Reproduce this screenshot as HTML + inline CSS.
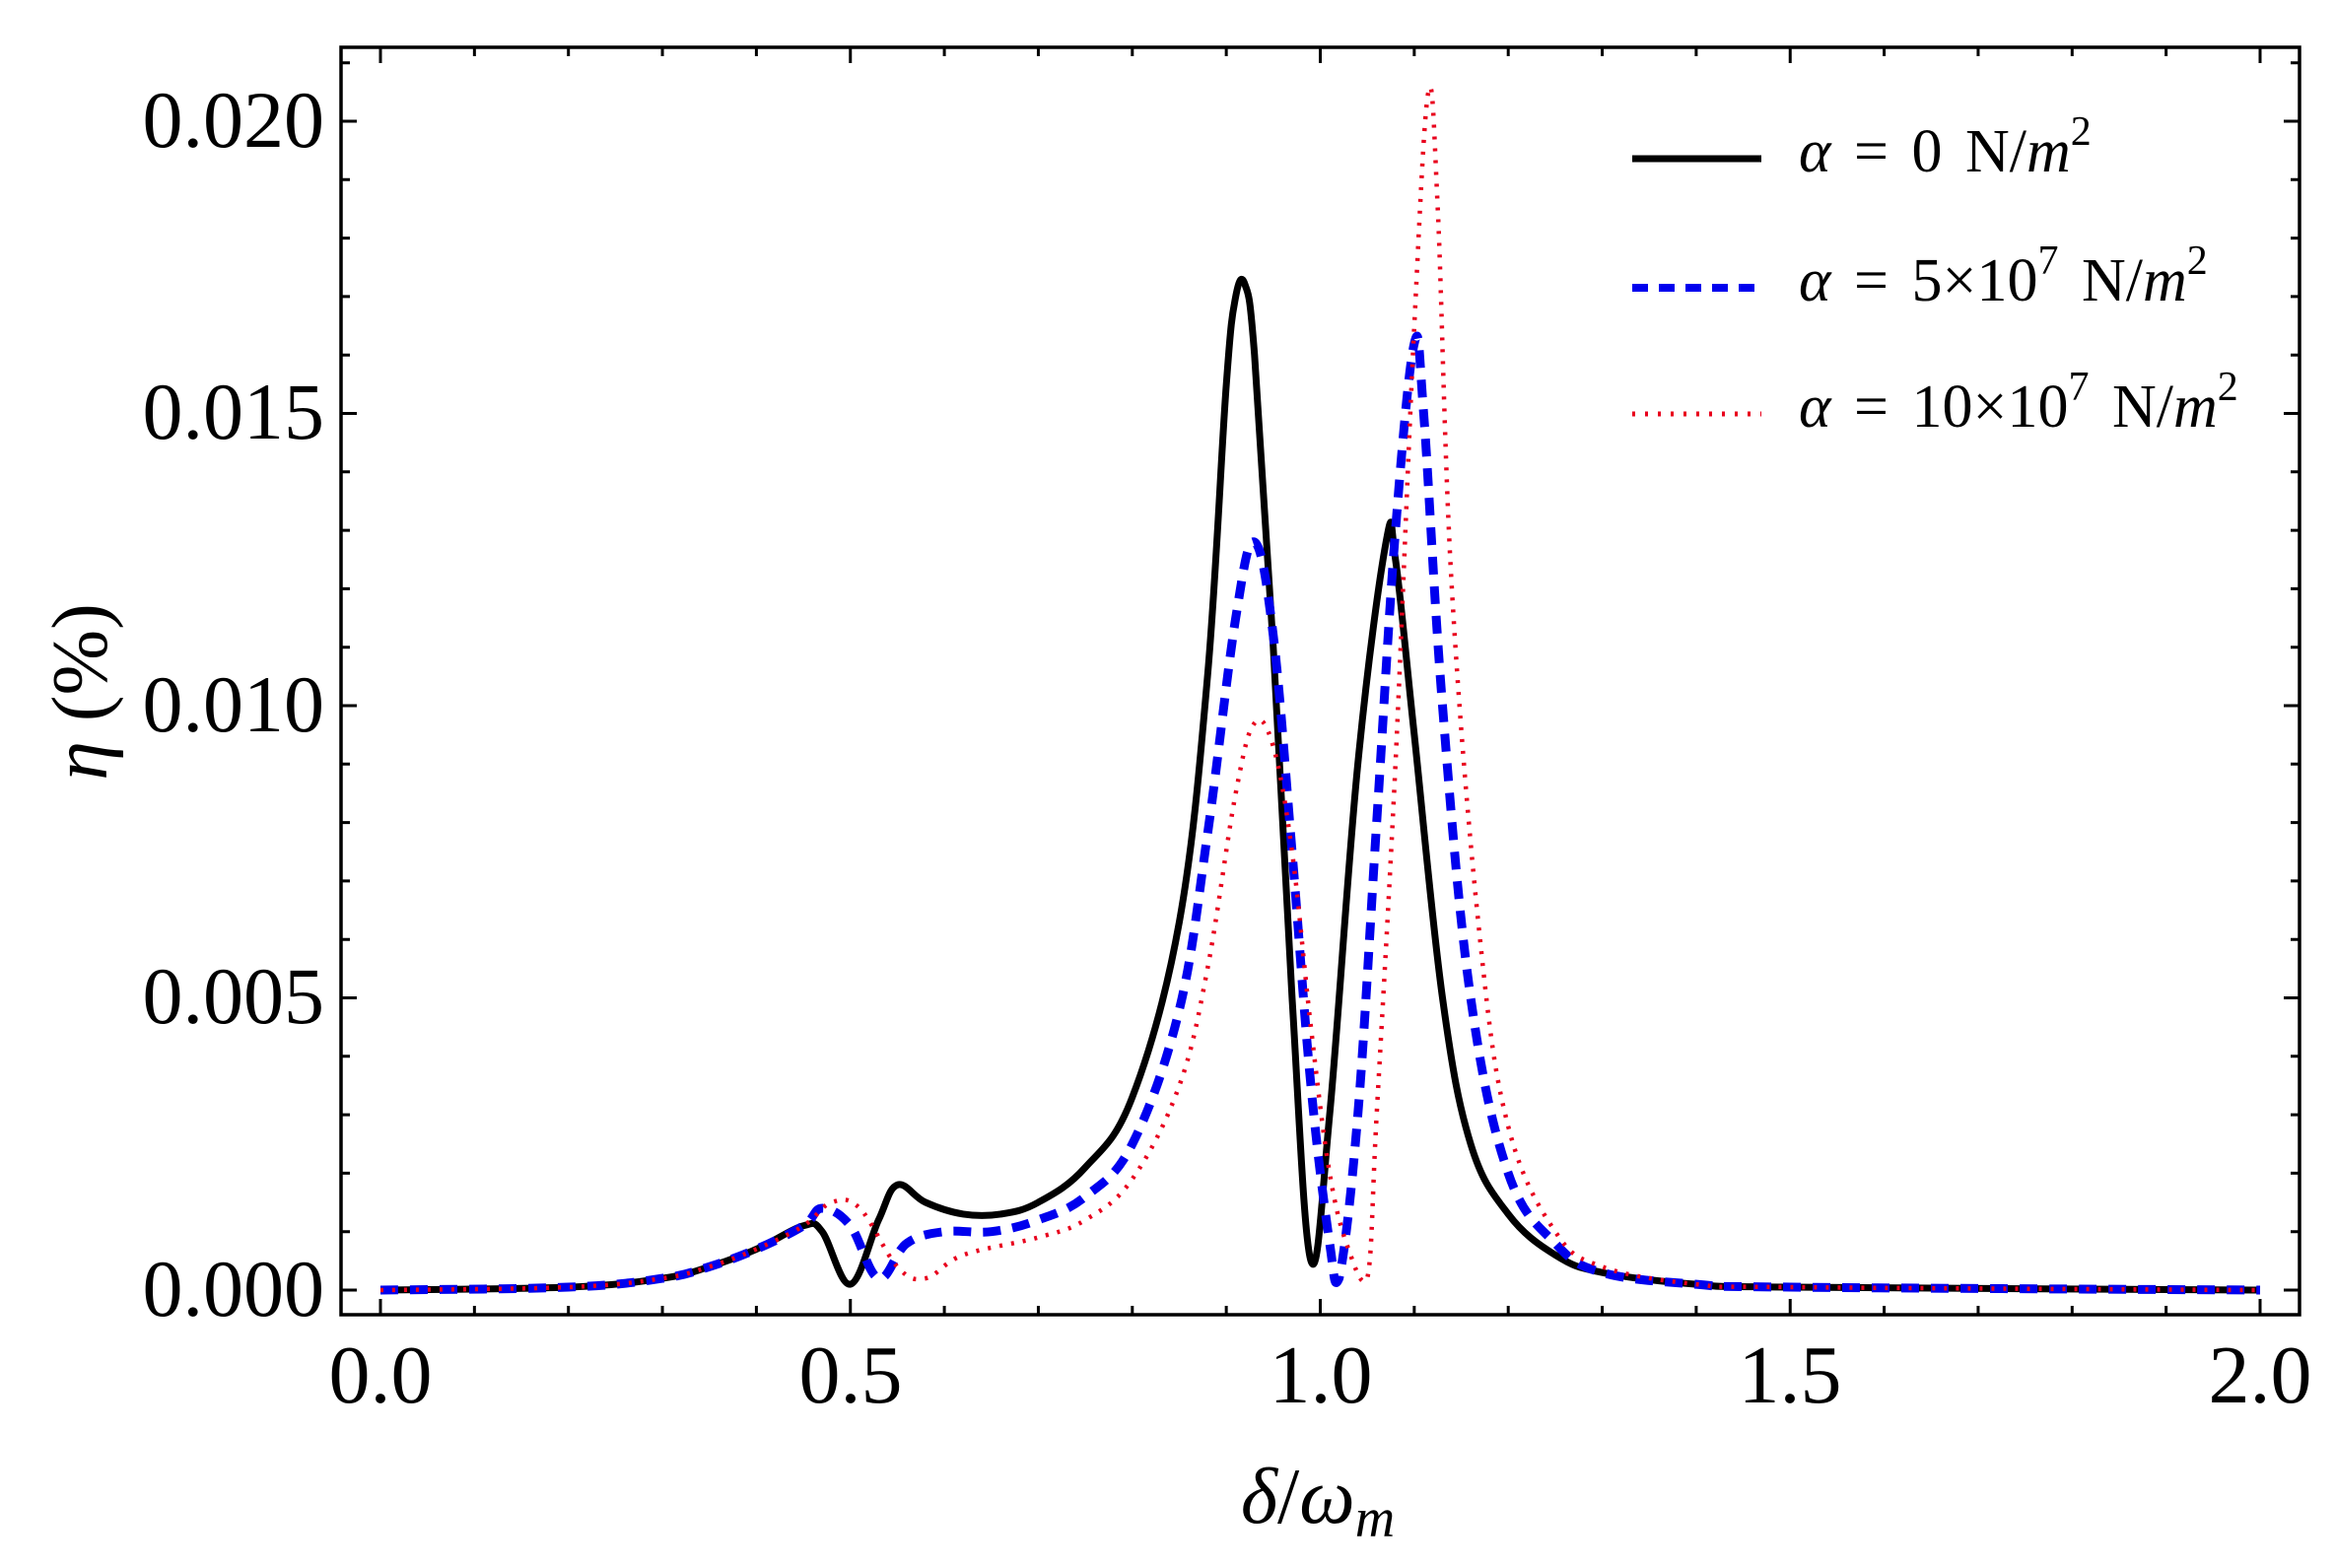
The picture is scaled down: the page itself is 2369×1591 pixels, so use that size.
<!DOCTYPE html>
<html><head><meta charset="utf-8"><style>
html,body{margin:0;padding:0;background:#fff;}
svg{display:block;}
text{font-family:"Liberation Serif",serif;fill:#000;}
</style></head><body>
<svg id="s" width="2369" height="1591" viewBox="0 0 2369 1591" xmlns="http://www.w3.org/2000/svg">
<rect x="0" y="0" width="2369" height="1591" fill="#fff"/>
<g id="ticks" stroke="#000" stroke-width="3"></g>
<rect x="346" y="48" width="1987" height="1286" fill="none" stroke="#000" stroke-width="3.5"/>
<g font-size="82" text-anchor="end">
<text x="329" y="1335">0.000</text>
<text x="329" y="1038">0.005</text>
<text x="329" y="742">0.010</text>
<text x="329" y="445">0.015</text>
<text x="329" y="149">0.020</text>
</g>
<g font-size="84" text-anchor="middle">
<text x="386" y="1423">0.0</text>
<text x="863" y="1423">0.5</text>
<text x="1340" y="1423">1.0</text>
<text x="1816" y="1423">1.5</text>
<text x="2293" y="1423">2.0</text>
</g>
<text x="1337" y="1545" font-size="80" text-anchor="middle"><tspan font-style="italic">δ</tspan>/<tspan font-style="italic">ω</tspan><tspan font-style="italic" font-size="56" dy="14">m</tspan></text>
<text transform="translate(108,702) rotate(-90)" font-size="80" text-anchor="middle"><tspan font-style="italic">η</tspan> (%)</text>
<g id="curves" fill="none" stroke-linejoin="round"></g>
<line x1="1656" y1="161" x2="1787" y2="161" stroke="#000" stroke-width="7"/>
<line x1="1656" y1="292" x2="1787" y2="292" stroke="#0000ee" stroke-width="8" stroke-dasharray="16,11"/>
<line x1="1656" y1="420" x2="1787" y2="420" stroke="#e8001c" stroke-width="5" stroke-dasharray="3,10"/>
<g font-size="62" word-spacing="8">
<text x="1825" y="174"><tspan font-style="italic">α</tspan> = 0 N/<tspan font-style="italic">m</tspan><tspan font-size="42" dy="-27">2</tspan></text>
<text x="1825" y="305"><tspan font-style="italic">α</tspan> = 5×10<tspan font-size="42" dy="-27">7</tspan><tspan dy="27"> N/</tspan><tspan font-style="italic">m</tspan><tspan font-size="42" dy="-27">2</tspan></text>
<text x="1825" y="433"><tspan font-style="italic">α</tspan> = 10×10<tspan font-size="42" dy="-27">7</tspan><tspan dy="27"> N/</tspan><tspan font-style="italic">m</tspan><tspan font-size="42" dy="-27">2</tspan></text>
</g>
</svg>
<script>
var X=function(x){return 386+x*953.5;}, Y=function(y){return 1309-y*59300;};
var NS="http://www.w3.org/2000/svg";
var tg=document.getElementById("ticks"), t="";
for(var i=0;i<=20;i++){var x=X(i*0.1),L=(i%5==0)?16:9;
 t+="M"+x+",1334v-"+L+"M"+x+",48v"+L;}
for(var j=0;j<=21;j++){var y=Y(j*0.001),L=(j%5==0)?16:9;
 if(y<50)continue; t+="M346,"+y+"h"+L+"M2333,"+y+"h-"+L;}
var p=document.createElementNS(NS,"path");p.setAttribute("d",t);tg.appendChild(p);
var black=[[0,0],[0.2,0.00005],[0.3,0.0002],[0.35,0.0004],[0.4,0.0007],[0.45,0.0011],[0.47,0.001],[0.5,0.0001],[0.53,0.0012],[0.55,0.0018],[0.58,0.0015],[0.62,0.0013],[0.66,0.0013],[0.7,0.0015],[0.75,0.0021],[0.8,0.0033],[0.85,0.0063],[0.88,0.0105],[0.9,0.0155],[0.91,0.017],[0.92,0.0172],[0.93,0.016],[0.95,0.011],[0.97,0.005],[0.99,0.0005],[1.01,0.003],[1.04,0.009],[1.07,0.0128],[1.08,0.0125],[1.1,0.0095],[1.13,0.005],[1.16,0.0025],[1.2,0.0013],[1.25,0.0006],[1.3,0.0003],[1.4,0.0001],[1.5,0.00005],[2,0]];
var blue=[[0,0],[0.2,0.00005],[0.3,0.0002],[0.35,0.0004],[0.4,0.0007],[0.45,0.0011],[0.47,0.0014],[0.5,0.0011],[0.53,0.0002],[0.56,0.0008],[0.6,0.001],[0.65,0.001],[0.7,0.0012],[0.75,0.0016],[0.8,0.0025],[0.85,0.0048],[0.88,0.0078],[0.91,0.0115],[0.93,0.0128],[0.95,0.0112],[0.97,0.0075],[0.99,0.0035],[1.01,0.0008],[1.02,0.0002],[1.04,0.003],[1.06,0.008],[1.08,0.013],[1.1,0.0162],[1.11,0.015],[1.13,0.01],[1.16,0.005],[1.2,0.002],[1.25,0.0008],[1.3,0.0003],[1.4,0.0001],[1.5,0.00005],[2,0]];
var red=[[0,0],[0.2,0.00005],[0.3,0.0002],[0.35,0.0004],[0.4,0.0007],[0.45,0.0011],[0.48,0.0015],[0.51,0.0014],[0.55,0.0004],[0.58,0.0002],[0.62,0.0006],[0.7,0.0009],[0.75,0.0012],[0.8,0.0019],[0.85,0.0035],[0.88,0.0055],[0.91,0.0085],[0.93,0.0097],[0.95,0.0093],[0.97,0.0075],[0.99,0.0045],[1.01,0.002],[1.03,0.0007],[1.05,0.0002],[1.06,0.003],[1.08,0.009],[1.1,0.0165],[1.115,0.0205],[1.125,0.0185],[1.14,0.012],[1.17,0.006],[1.2,0.0028],[1.25,0.001],[1.3,0.0004],[1.4,0.0001],[1.5,0.00005],[2,0]];
function add(d,st,w,da){
 var P=d.map(function(q){return [X(q[0]),Y(q[1])];});
 var s="M"+P[0][0].toFixed(1)+","+P[0][1].toFixed(1), k=0.18;
 for(var i=0;i<P.length-1;i++){
  var p0=P[i-1]||P[i],p1=P[i],p2=P[i+1],p3=P[i+2]||P[i+1];
  var c1=[p1[0]+(p2[0]-p0[0])*k,p1[1]+(p2[1]-p0[1])*k];
  var c2=[p2[0]-(p3[0]-p1[0])*k,p2[1]-(p3[1]-p1[1])*k];
  c1[1]=Math.min(c1[1],1309);c2[1]=Math.min(c2[1],1309);
  s+="C"+c1[0].toFixed(1)+","+c1[1].toFixed(1)+" "+c2[0].toFixed(1)+","+c2[1].toFixed(1)+" "+p2[0].toFixed(1)+","+p2[1].toFixed(1);
 }
 var e=document.createElementNS(NS,"path");e.setAttribute("d",s);e.setAttribute("stroke",st);e.setAttribute("stroke-width",w);
 if(da)e.setAttribute("stroke-dasharray",da);document.getElementById("curves").appendChild(e);}
add(black,"#000",7,null);
add(blue,"#0000ee",9,"18,12");
add(red,"#e8001c",4.5,"3,9");
</script>
</body></html>
